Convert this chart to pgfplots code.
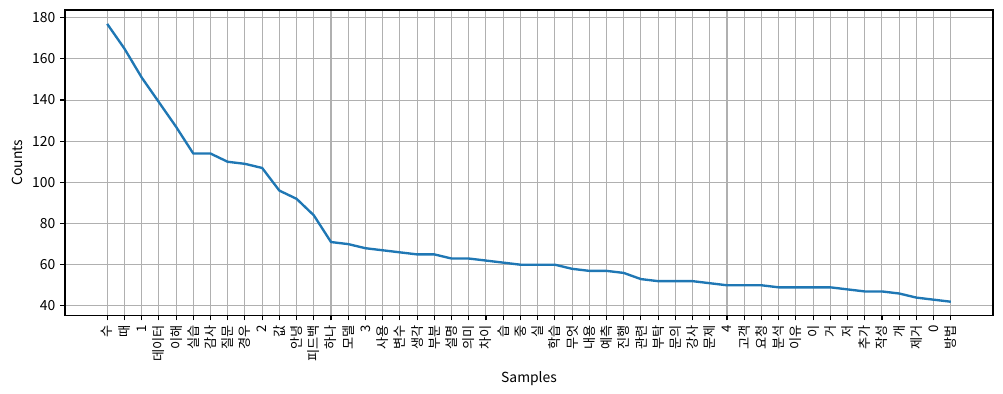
\documentclass[border=0pt]{standalone}
\usepackage{fontspec}
\setmainfont{Noto Sans CJK KR}
\usepackage{pgfplots}
\pgfplotsset{compat=1.18}
\definecolor{mplblue}{HTML}{1F77B4}
\definecolor{mplgrid}{HTML}{B0B0B0}
\begin{document}
\begin{tikzpicture}
\begin{axis}[
  scale only axis,
  width=668pt, height=220pt,
  xmin=-2.45, xmax=51.45,
  ymin=35.25, ymax=183.75,
  xtick={0,...,49},
  xticklabels={수,때,1,데이터,이해,실습,감사,질문,경우,2,값,안녕,피드백,하나,모델,3,사용,변수,생각,부분,설명,의미,차이,습,중,실,학습,무엇,내용,예측,진행,관련,부탁,문의,강사,문제,4,고객,요청,분석,이유,이,거,저,추가,작성,개,제거,0,방법},
  ytick={40,60,...,180},
  xticklabel style={rotate=90, anchor=east, font=\fontsize{9.5}{10}\selectfont},
  yticklabel style={font=\fontsize{10}{12}\selectfont},
  /pgf/number format/assume math mode=true,
  grid=major,
  major grid style={color=mplgrid, line width=0.75pt},
  axis line style={line width=0.8pt},
  tick style={black, line width=0.8pt},
  major tick length=3.5pt,
  tick align=outside,
  xtick pos=bottom, ytick pos=left,
  xlabel={Samples}, ylabel={Counts},
  label style={font=\fontsize{10}{12}\selectfont},
  every axis x label/.style={at={(ticklabel cs:0.5)}, anchor=north},
  every axis y label/.style={at={(ticklabel cs:0.5)}, anchor=south, rotate=90},
]
\addplot[mplblue, line width=1.7pt, line join=round] coordinates {
(0,177) (1,165) (2,151) (3,139) (4,127) (5,114) (6,114) (7,110) (8,109) (9,107)
(10,96) (11,92) (12,84) (13,71) (14,70) (15,68) (16,67) (17,66) (18,65) (19,65)
(20,63) (21,63) (22,62) (23,61) (24,60) (25,60) (26,60) (27,58) (28,57) (29,57)
(30,56) (31,53) (32,52) (33,52) (34,52) (35,51) (36,50) (37,50) (38,50) (39,49)
(40,49) (41,49) (42,49) (43,48) (44,47) (45,47) (46,46) (47,44) (48,43) (49,42)
};
\coordinate (ll) at (rel axis cs:0,0);
\coordinate (ur) at (rel axis cs:1,1);
\end{axis}
\pgfresetboundingbox
\path ([shift={(-46.8pt,-56.2pt)}]ll) rectangle ([shift={(7.2pt,7.2pt)}]ur);
\end{tikzpicture}
\end{document}
